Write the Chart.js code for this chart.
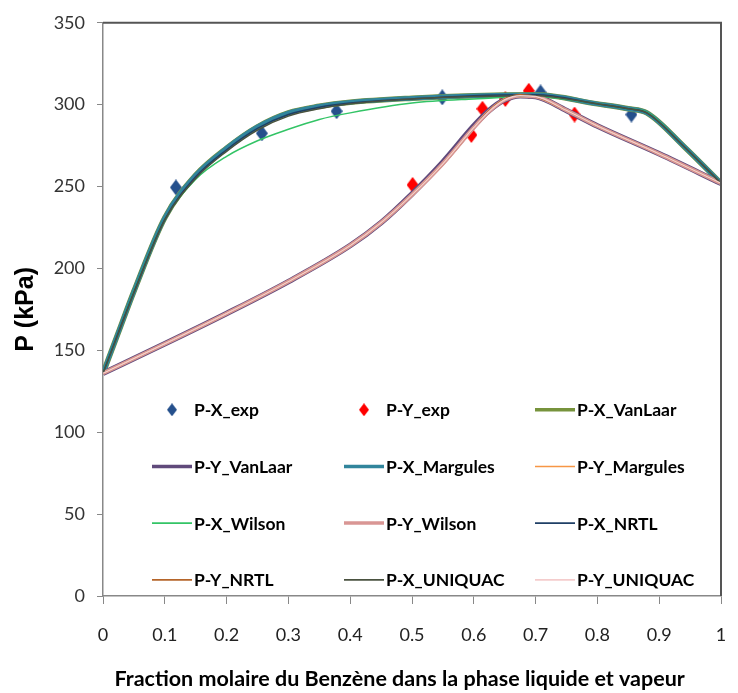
<!DOCTYPE html>
<html>
<head>
<meta charset="utf-8">
<script src="https://cdn.jsdelivr.net/npm/chart.js@4.4.1/dist/chart.umd.min.js"></script>
<style>
  html, body { margin: 0; padding: 0; background: #ffffff; }
  #wrap { width: 738px; height: 693px; }
</style>
</head>
<body>
<div id="wrap"><canvas id="c" width="738" height="693"></canvas></div>
<script>
// Experimental bubble-point (liquid) and dew-point (vapour) data
const xExpLiq = [0.118, 0.257, 0.378, 0.549, 0.708, 0.855];
const pExpLiq = [249.5, 282.5, 296.0, 304.5, 307.5, 294.0];
const xExpVap = [0.501, 0.596, 0.614, 0.651, 0.689, 0.763];
const pExpVap = [251.0, 281.5, 297.5, 303.5, 308.5, 294.0];

// Model curves, liquid side (P-X)
const xModLiq = [0, 0.025, 0.05, 0.1, 0.15, 0.2, 0.25, 0.3, 0.35, 0.4, 0.5, 0.6, 0.7, 0.8, 0.85, 0.88, 0.94, 1];
const pxVanLaar  = [136, 161.0, 186.0, 231.0, 257.0, 273.5, 286.5, 295.0, 299.0, 301.5, 304.0, 305.5, 306.0, 300.5, 297.5, 295.0, 274.5, 252];
const pxMargules = [136, 161.0, 186.0, 231.0, 257.0, 273.5, 286.5, 295.0, 299.0, 301.5, 304.0, 305.5, 306.0, 300.5, 297.5, 295.0, 274.5, 252];
const pxWilson   = [136, 161.0, 186.0, 230.0, 254.5, 268.5, 278.0, 285.0, 291.0, 295.0, 301.0, 303.5, 305.0, 300.5, 297.5, 295.5, 274.5, 252];
const pxNRTL     = [136, 161.0, 185.5, 230.0, 256.0, 272.5, 285.5, 294.0, 298.5, 301.0, 303.5, 305.5, 306.0, 300.5, 297.5, 295.0, 274.5, 252];
const pxUNIQUAC  = [136, 160.5, 185.0, 229.5, 255.0, 271.5, 284.5, 293.0, 297.5, 300.5, 303.5, 305.0, 305.5, 300.5, 297.5, 295.0, 274.5, 252];

// Model curves, vapour side (P-Y)
const xModVap = [0, 0.1, 0.2, 0.3, 0.4, 0.45, 0.5, 0.55, 0.6, 0.625, 0.65, 0.675, 0.7, 0.75, 0.8, 0.9, 1];
const pyVanLaar  = [136, 154.0, 172.5, 192.0, 214.0, 228.0, 245.5, 265.0, 287.0, 296.5, 303.0, 305.5, 305.0, 296.5, 287.0, 270.0, 252];
const pyMargules = [136, 154.0, 172.5, 192.0, 214.0, 228.0, 245.0, 264.0, 286.0, 296.0, 303.0, 305.5, 305.0, 296.5, 287.0, 270.0, 252];
const pyWilson   = [136, 154.0, 172.5, 192.0, 214.0, 228.0, 245.0, 264.0, 286.0, 296.0, 303.0, 305.5, 305.0, 296.5, 287.0, 270.0, 252];
const pyNRTL     = [136, 154.0, 172.5, 192.0, 214.0, 228.0, 245.0, 264.0, 286.0, 296.5, 303.5, 306.0, 305.0, 296.5, 287.0, 270.0, 252];
const pyUNIQUAC  = [136, 154.0, 172.5, 192.0, 214.0, 228.0, 245.0, 264.0, 286.0, 296.0, 303.0, 305.5, 305.0, 296.5, 287.0, 270.0, 252];

// Axis ticks
const xTicks = [0, 0.1, 0.2, 0.3, 0.4, 0.5, 0.6, 0.7, 0.8, 0.9, 1];
const yTicks = [0, 50, 100, 150, 200, 250, 300, 350];

const pairs = (xs, ys) => xs.map((x, i) => ({ x: x, y: ys[i] }));

// Slightly elongated diamond marker
function diamond(w, h, color) {
  const cv = document.createElement('canvas');
  cv.width = w; cv.height = h;
  const g = cv.getContext('2d');
  g.fillStyle = color;
  g.beginPath();
  g.moveTo(w / 2, 0); g.lineTo(w, h / 2); g.lineTo(w / 2, h); g.lineTo(0, h / 2);
  g.closePath(); g.fill();
  return cv;
}
const BLUE = '#25508C', RED = '#FF0000';
const blueMark = diamond(12, 16, BLUE), redMark = diamond(12, 16, RED);
const blueKey = diamond(10, 13, BLUE), redKey = diamond(10, 13, RED);

function curve(label, xs, ys, color, width, keyWidth) {
  return {
    type: 'line', label: label, data: pairs(xs, ys),
    borderColor: color, backgroundColor: color, borderWidth: width,
    pointRadius: 0, pointHoverRadius: 0, fill: false,
    cubicInterpolationMode: 'monotone', keyWidth: keyWidth
  };
}
function markers(label, xs, ys, img, key, color) {
  return {
    type: 'scatter', label: label, data: pairs(xs, ys),
    pointStyle: img, keyStyle: key, backgroundColor: color, borderColor: color,
    pointRadius: 8, showLine: false
  };
}

const datasets = [
  markers('P-X_exp', xExpLiq, pExpLiq, blueMark, blueKey, BLUE),
  markers('P-Y_exp', xExpVap, pExpVap, redMark, redKey, RED),
  curve('P-X_VanLaar',  xModLiq, pxVanLaar,  '#77933C', 5.5, 3.5),
  curve('P-Y_VanLaar',  xModVap, pyVanLaar,  '#604A7B', 5.5, 3.5),
  curve('P-X_Margules', xModLiq, pxMargules, '#31859C', 4.5, 3.5),
  curve('P-Y_Margules', xModVap, pyMargules, '#F79646', 1.5, 1.5),
  curve('P-X_Wilson',   xModLiq, pxWilson,   '#33C466', 1.5, 1.8),
  curve('P-Y_Wilson',   xModVap, pyWilson,   '#D99694', 4.0, 3.5),
  curve('P-X_NRTL',     xModLiq, pxNRTL,     '#1F3F66', 1.5, 1.8),
  curve('P-Y_NRTL',     xModVap, pyNRTL,     '#B5652A', 1.5, 1.8),
  curve('P-X_UNIQUAC',  xModLiq, pxUNIQUAC,  '#4A5240', 1.5, 1.8),
  curve('P-Y_UNIQUAC',  xModVap, pyUNIQUAC,  '#F4CCCC', 1.5, 1.8)
];
// later series are painted over earlier ones
datasets.forEach((d, i) => { d.order = datasets.length - i; });

// Legend laid out as a 3 x 4 grid inside the plot area
const gridKey = {
  id: 'gridKey',
  afterDatasetsDraw(chart, args, opts) {
    const ctx = chart.ctx, area = chart.chartArea;
    ctx.save();
    ctx.font = opts.font;
    ctx.textBaseline = 'middle';
    ctx.textAlign = 'left';
    chart.data.datasets.forEach((ds, i) => {
      const col = i % 3, row = Math.floor(i / 3);
      const x0 = area.left + opts.cols[col];
      const y0 = area.top + opts.rows[row];
      if (ds.keyStyle) {
        const k = ds.keyStyle;
        ctx.drawImage(k, x0 + opts.swatch / 2 - k.width / 2, y0 - k.height / 2);
      } else {
        ctx.strokeStyle = ds.borderColor;
        ctx.lineWidth = ds.keyWidth;
        ctx.beginPath();
        ctx.moveTo(x0, y0); ctx.lineTo(x0 + opts.swatch, y0);
        ctx.stroke();
      }
      ctx.fillStyle = '#000000';
      ctx.fillText(ds.label, x0 + opts.swatch + opts.gap, y0 + 1);
    });
    ctx.restore();
  }
};

// Dark frame on the top and right edges of the plot area, plus the x-axis caption
const frame = {
  id: 'frame',
  afterDraw(chart, args, opts) {
    const ctx = chart.ctx, a = chart.chartArea;
    ctx.save();
    ctx.strokeStyle = opts.color;
    ctx.lineWidth = opts.width;
    ctx.beginPath();
    ctx.moveTo(a.left, a.top); ctx.lineTo(a.right, a.top); ctx.lineTo(a.right, a.bottom);
    ctx.stroke();
    ctx.fillStyle = '#000000';
    ctx.font = opts.captionFont;
    ctx.textAlign = 'center';
    ctx.textBaseline = 'middle';
    ctx.fillText(opts.caption, a.left + (a.right - a.left) * opts.captionAt, chart.height - opts.captionBottom);
    ctx.restore();
  }
};

const tickFont = { family: 'Lato', size: 18 };

new Chart(document.getElementById('c'), {
  data: { datasets: datasets },
  options: {
    responsive: false,
    animation: false,
    events: [],
    layout: { padding: { top: 20, right: 17, bottom: 0, left: 0 } },
    plugins: {
      legend: { display: false },
      tooltip: { enabled: false },
      gridKey: {
        font: 'bold 17.5px Lato',
        cols: [49, 241, 432],
        rows: [387, 443.7, 500.3, 557],
        swatch: 40, gap: 2
      },
      frame: {
        color: '#555555', width: 2,
        caption: 'Fraction molaire du Benzène dans la phase liquide et vapeur',
        captionFont: 'bold 21.5px Lato', captionAt: 0.48, captionBottom: 14
      }
    },
    scales: {
      x: {
        type: 'linear', min: 0, max: 1,
        afterFit(s) { s.height = 97; s.paddingLeft = 0; s.paddingRight = 0; },
        afterBuildTicks(s) { s.ticks = xTicks.map(v => ({ value: v })); },
        ticks: {
          font: tickFont, color: '#222222', padding: 20, maxRotation: 0,
          callback: v => String(Number(v.toFixed(1)))
        },
        grid: { drawOnChartArea: false, drawTicks: true, tickLength: 8, color: '#888888', lineWidth: 1 },
        border: { display: true, color: '#888888', width: 1.5 },
        title: { display: false }
      },
      y: {
        type: 'linear', min: 0, max: 350,
        afterFit(s) { s.width = 103; },
        afterBuildTicks(s) { s.ticks = yTicks.map(v => ({ value: v })); },
        ticks: { font: tickFont, color: '#333333', padding: 12 },
        grid: { drawOnChartArea: false, drawTicks: true, tickLength: 6, color: '#888888', lineWidth: 1 },
        border: { display: true, color: '#888888', width: 1.5 },
        title: {
          display: true, text: 'P (kPa)', color: '#000000',
          font: { family: 'Liberation Sans', size: 25, weight: 'bold' },
          padding: { top: 11, bottom: 0 }
        }
      }
    }
  },
  plugins: [gridKey, frame]
});
</script>
</body>
</html>
